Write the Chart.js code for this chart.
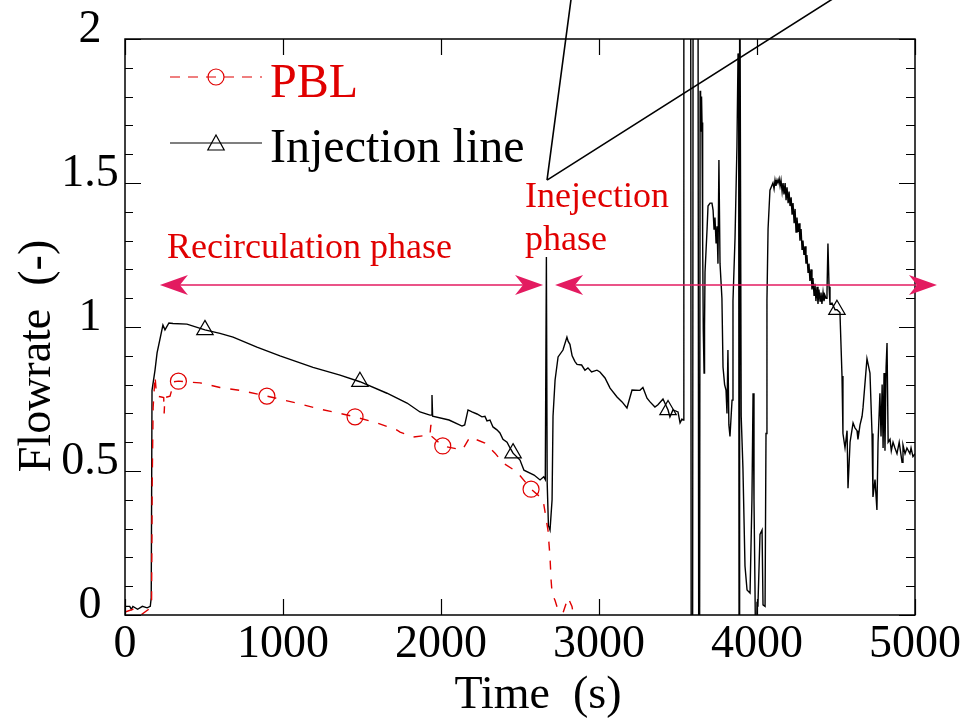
<!DOCTYPE html>
<html>
<head>
<meta charset="utf-8">
<title>Flowrate</title>
<script src="https://cdn.jsdelivr.net/npm/chart.js@4.4.1/dist/chart.umd.min.js"></script>
<style>
  html, body { margin: 0; padding: 0; background: #fff; }
</style>
</head>
<body>
<canvas id="flowChart" width="966" height="720"></canvas>
<script>
// axis ticks
const timeTicks = [0, 1000, 2000, 3000, 4000, 5000];
const flowTicks = [0, 0.5, 1, 1.5, 2];
const flowMinorTicks = [0.1, 0.2, 0.3, 0.4, 0.6, 0.7, 0.8, 0.9, 1.1, 1.2, 1.3, 1.4, 1.6, 1.7, 1.8, 1.9];

// PBL flowrate
const pblTime = [0, 50, 100, 150, 168, 172, 178, 190, 200, 230, 245, 248, 252, 285, 310, 338, 380, 475,
  601, 728, 898, 1000, 1107, 1234, 1361, 1456, 1595, 1722, 1741, 1823, 1930, 1936, 1942, 2011, 2135,
  2183, 2278, 2342, 2392, 2481, 2570, 2627, 2646, 2677, 2690, 2697, 2703, 2722, 2741, 2772, 2804,
  2829, 2835];
const pblFlow = [0.01, 0.02, 0.0, 0.02, 0.03, 0.45, 0.72, 0.83, 0.76, 0.757, 0.755, 0.70, 0.755, 0.76,
  0.81, 0.812, 0.81, 0.806, 0.79, 0.78, 0.76, 0.747, 0.733, 0.715, 0.70, 0.688, 0.667, 0.642, 0.635,
  0.618, 0.625, 0.66, 0.62, 0.587, 0.573, 0.618, 0.597, 0.562, 0.528, 0.497, 0.437, 0.41, 0.40, 0.295,
  0.2, 0.12, 0.076, 0.05, 0.017, 0.007, 0.06, 0.03, 0.01];
const pblMarkerTimes = [338, 898, 1456, 2011, 2570];

// Injection line flowrate
const injTime = [0, 30, 40, 50, 80, 110, 140, 160, 166, 171, 190, 203, 240, 253, 278, 304, 392, 506,
  601, 684, 835, 981, 1190, 1361, 1487, 1658, 1785, 1867, 1930, 1940, 1943, 1947, 2051, 2133, 2150,
  2171, 2196, 2228, 2259, 2278, 2291, 2310, 2329, 2354, 2373, 2392, 2418, 2437, 2456, 2500, 2525,
  2589, 2627, 2650, 2660, 2667, 2672, 2680, 2690,
  2703, 2709, 2722, 2741, 2772, 2797, 2805, 2816, 2830, 2848, 2861, 2890, 2911, 2930, 2953, 2987,
  3006, 3038, 3070, 3114, 3146, 3177, 3209, 3259, 3278,
  3304, 3323, 3354, 3373, 3405, 3437, 3449, 3468, 3500, 3513, 3525, 3532,
  3537, 3580, 3584, 3592, 3596, 3626, 3632, 3636, 3640, 3643, 3646, 3649, 3652, 3656, 3660, 3665,
  3668, 3671, 3684, 3690, 3703, 3715, 3722, 3728, 3734, 3741, 3747, 3753, 3759, 3766, 3778, 3785,
  3795, 3804, 3810, 3816, 3822, 3829, 3842, 3848, 3861, 3873, 3880, 3884, 3887, 3890, 3900, 3911,
  3924, 3937, 3956, 3968, 3975, 3981, 3987, 3994, 4000, 4006, 4019, 4032, 4038, 4051, 4057, 4063,
  4070, 4082, 4101, 4108, 4114, 4120, 4127, 4133, 4140, 4146, 4152, 4159, 4165, 4171, 4178, 4184,
  4190, 4197, 4203, 4209, 4216, 4222, 4228, 4235, 4241, 4247, 4253, 4260, 4266, 4272, 4279, 4285,
  4291, 4297, 4304, 4310, 4316, 4323, 4329, 4335, 4342, 4348, 4354, 4361, 4367, 4373, 4380, 4386,
  4392, 4399, 4405, 4411, 4418, 4424, 4430, 4437, 4443, 4449, 4456, 4462, 4475, 4494, 4506, 4525,
  4538, 4544, 4557, 4570, 4576, 4589, 4608, 4620, 4633, 4639, 4652, 4665, 4671, 4696, 4715, 4728,
  4734, 4747, 4759, 4766, 4778, 4785, 4792, 4798, 4804, 4810, 4817, 4823, 4830, 4842, 4850, 4861,
  4873, 4886, 4900, 4918, 4924, 4937, 4949, 4968, 4975, 4987, 5000];
const injFlow = [0.03, 0.03, 0.02, 0.03, 0.02, 0.03, 0.025, 0.03, 0.06, 0.78, 0.85, 0.91, 1.007, 0.99,
  1.014, 1.012, 1.01, 0.99, 0.978, 0.965, 0.93, 0.90, 0.86, 0.833, 0.81, 0.77, 0.736, 0.705, 0.694,
  0.694, 0.764, 0.69, 0.677, 0.656, 0.66,
  0.712, 0.705, 0.698, 0.688, 0.69, 0.674, 0.677, 0.653, 0.643, 0.632, 0.61, 0.60, 0.58, 0.562, 0.538,
  0.503, 0.486, 0.469, 0.48, 0.47, 1.243, 0.46, 0.31, 0.295,
  0.40, 0.69, 0.816, 0.896, 0.92, 0.965, 0.95, 0.94, 0.90, 0.88, 0.87, 0.868, 0.85, 0.858, 0.844, 0.85,
  0.844, 0.823, 0.788, 0.757, 0.74, 0.719, 0.781, 0.78, 0.79,
  0.753, 0.74, 0.722, 0.73, 0.75, 0.712, 0.688, 0.712, 0.705, 0.667, 0.68, 0.677,
  2.6, 2.6, -0.6, -0.6, 2.6, 2.6, -0.6, -0.6, 1.82, 1.80, 1.68, 1.80, 1.71, 1.3, 0.99, 0.84,
  1.0, 1.19, 1.34, 1.42, 1.43, 1.43, 1.406, 1.34, 1.38, 1.29, 1.35, 1.22, 1.58, 1.22, 1.10, 0.86,
  0.80, 0.78, 0.70, 0.92, 0.66, 0.62, 0.746, 1.09, 1.31, 1.625, 1.95, 1.9, -0.6, 2.6, 0.69, 0.51,
  0.17, 0.087, 0.076, 0.4, 0.77, 0.4, 0.11, -0.3, 0.04, 0.035, 0.28, 0.295, 0.035, 0.03, 0.63, 1.094,
  1.34, 1.475, 1.50, 1.48, 1.51, 1.49, 1.51, 1.50, 1.515, 1.49, 1.51, 1.47, 1.50, 1.46, 1.50, 1.44,
  1.485, 1.43, 1.47, 1.42, 1.45, 1.39, 1.43, 1.36, 1.41, 1.33, 1.38, 1.33, 1.36, 1.30, 1.34, 1.27,
  1.30, 1.25, 1.28, 1.22, 1.25, 1.19, 1.22, 1.16, 1.20, 1.13, 1.17, 1.11, 1.15, 1.09, 1.14, 1.08,
  1.13, 1.09, 1.12, 1.08, 1.12, 1.09, 1.11, 1.10, 1.12, 1.29, 1.14, 1.08, 1.083, 1.06, 1.06, 1.05,
  0.83, 0.63, 0.58, 0.64, 0.44, 0.60, 0.667, 0.65, 0.64, 0.61, 0.66, 0.69, 0.72, 0.89, 0.84, 0.63,
  0.41, 0.47, 0.365, 0.597, 0.77, 0.62, 0.80, 0.58, 0.84, 0.57, 0.86, 0.944, 0.60, 0.61, 0.57, 0.60,
  0.58, 0.56, 0.60, 0.53, 0.59, 0.56, 0.58, 0.56, 0.58, 0.55, 0.56];
const injMarkerTimes = [506, 1487, 2456, 3437, 4506];

// phase arrows and labels, in axis units
const arrowFlow = 1.146;
const recircSpan = [221, 2646];
const injectSpan = [2722, 5139];

const RED = '#e00000';
const PINK = '#e31b60';
const SERIF = '"Liberation Serif", "Times New Roman", serif';

function toPoints(times, values) {
  return times.map((t, i) => ({ x: t, y: values[i] }));
}

function markerRadius(times, r) {
  return ctx => (ctx.raw && times.includes(ctx.raw.x)) ? r : 0;
}

function arrowHead(ctx, tipX, tipY, dir) {
  // barbed head, dir = -1 points left, +1 points right
  ctx.beginPath();
  ctx.moveTo(tipX, tipY);
  ctx.lineTo(tipX - dir * 28, tipY - 10);
  ctx.lineTo(tipX - dir * 20, tipY);
  ctx.lineTo(tipX - dir * 28, tipY + 10);
  ctx.closePath();
  ctx.fill();
}

const decorations = {
  id: 'decorations',
  afterDatasetsDraw(chart) {
    const { ctx, chartArea: a, scales: { x, y } } = chart;
    ctx.save();

    // frame and inward ticks
    ctx.strokeStyle = '#000';
    ctx.lineWidth = 1.5;
    ctx.strokeRect(a.left, a.top, a.right - a.left, a.bottom - a.top);
    ctx.lineWidth = 1.2;
    ctx.beginPath();
    timeTicks.forEach(t => {
      const px = Math.round(x.getPixelForValue(t)) + 0.5;
      ctx.moveTo(px, a.bottom); ctx.lineTo(px, a.bottom - 16);
      ctx.moveTo(px, a.top); ctx.lineTo(px, a.top + 16);
    });
    flowTicks.forEach(v => {
      const py = Math.round(y.getPixelForValue(v)) + 0.5;
      ctx.moveTo(a.left, py); ctx.lineTo(a.left + 16, py);
      ctx.moveTo(a.right, py); ctx.lineTo(a.right - 16, py);
    });
    flowMinorTicks.forEach(v => {
      const py = Math.round(y.getPixelForValue(v)) + 0.5;
      ctx.moveTo(a.left, py); ctx.lineTo(a.left + 8, py);
      ctx.moveTo(a.right, py); ctx.lineTo(a.right - 9, py);
    });
    ctx.stroke();

    // tick labels
    ctx.fillStyle = '#000';
    ctx.font = '46px ' + SERIF;
    ctx.textAlign = 'center';
    ctx.textBaseline = 'alphabetic';
    timeTicks.forEach(t => ctx.fillText(String(t), x.getPixelForValue(t), a.bottom + 42));
    flowTicks.forEach(v => ctx.fillText(String(v), a.left - 35, y.getPixelForValue(v) + 3));

    // axis titles
    ctx.fillText('Time  (s)', (a.left + a.right) / 2 + 18, a.bottom + 93);
    ctx.save();
    ctx.translate(a.left - 75, (a.top + a.bottom) / 2 + 29);
    ctx.rotate(-Math.PI / 2);
    ctx.fillText('Flowrate  (-)', 0, 0);
    ctx.restore();

    // legend
    const lx0 = a.left + 45, lx1 = a.left + 137, lxm = (lx0 + lx1) / 2;
    const ly1 = a.top + 38, ly2 = a.top + 104;
    ctx.lineWidth = 1.2;
    ctx.strokeStyle = RED;
    ctx.setLineDash([10, 8]);
    ctx.beginPath(); ctx.moveTo(lx0, ly1); ctx.lineTo(lx1, ly1); ctx.stroke();
    ctx.setLineDash([]);
    ctx.beginPath(); ctx.arc(lxm, ly1, 8, 0, Math.PI * 2); ctx.stroke();
    ctx.strokeStyle = '#000';
    ctx.beginPath(); ctx.moveTo(lx0, ly2); ctx.lineTo(lx1, ly2); ctx.stroke();
    ctx.beginPath();
    ctx.moveTo(lxm, ly2 - 8);
    ctx.lineTo(lxm + 8.2, ly2 + 7);
    ctx.lineTo(lxm - 8.2, ly2 + 7);
    ctx.closePath(); ctx.stroke();
    ctx.textAlign = 'left';
    ctx.font = '48px ' + SERIF;
    ctx.fillStyle = RED;
    ctx.fillText('PBL', a.left + 145, a.top + 58);
    ctx.fillStyle = '#000';
    ctx.fillText('Injection line', a.left + 145, a.top + 123);

    // callout lines above the injection phase label
    ctx.lineWidth = 1.6;
    ctx.beginPath();
    ctx.moveTo(x.getPixelForValue(2671), y.getPixelForValue(1.51));
    ctx.lineTo(x.getPixelForValue(2826), y.getPixelForValue(2.15));
    ctx.moveTo(x.getPixelForValue(2671), y.getPixelForValue(1.51));
    ctx.lineTo(x.getPixelForValue(4510), y.getPixelForValue(2.15));
    ctx.stroke();

    // phase arrows
    const ay = y.getPixelForValue(arrowFlow);
    ctx.strokeStyle = PINK;
    ctx.fillStyle = PINK;
    ctx.lineWidth = 1.5;
    [recircSpan, injectSpan].forEach(([t0, t1]) => {
      const p0 = x.getPixelForValue(t0), p1 = x.getPixelForValue(t1);
      ctx.beginPath(); ctx.moveTo(p0 + 20, ay); ctx.lineTo(p1 - 20, ay); ctx.stroke();
      arrowHead(ctx, p0, ay, -1);
      arrowHead(ctx, p1, ay, 1);
    });

    // phase labels
    ctx.fillStyle = RED;
    ctx.font = '36px ' + SERIF;
    ctx.fillText('Recirculation phase', x.getPixelForValue(266), y.getPixelForValue(1.24));
    ctx.fillText('Inejection', x.getPixelForValue(2532), y.getPixelForValue(1.417));
    ctx.fillText('phase', x.getPixelForValue(2532), y.getPixelForValue(1.267));

    ctx.restore();
  }
};

new Chart(document.getElementById('flowChart'), {
  type: 'line',
  data: {
    datasets: [
      {
        label: 'PBL',
        data: toPoints(pblTime, pblFlow),
        borderColor: RED,
        borderWidth: 1.4,
        borderDash: [9, 10],
        pointStyle: 'circle',
        pointRadius: markerRadius(pblMarkerTimes, 8),
        pointBorderColor: RED,
        pointBackgroundColor: 'rgba(0,0,0,0)',
        pointBorderWidth: 1.2,
        tension: 0
      },
      {
        label: 'Injection line',
        data: toPoints(injTime, injFlow),
        borderColor: '#000',
        borderWidth: 1.4,
        pointStyle: 'triangle',
        pointRadius: markerRadius(injMarkerTimes, 9.5),
        pointBorderColor: '#000',
        pointBackgroundColor: 'rgba(0,0,0,0)',
        pointBorderWidth: 1.2,
        tension: 0
      }
    ]
  },
  plugins: [decorations],
  options: {
    responsive: false,
    animation: false,
    events: [],
    layout: { padding: { left: 125, top: 39, right: 51, bottom: 105 } },
    scales: {
      x: { type: 'linear', min: 0, max: 5000, display: false },
      y: { type: 'linear', min: 0, max: 2, display: false }
    },
    plugins: {
      legend: { display: false },
      tooltip: { enabled: false }
    }
  }
});
</script>
</body>
</html>
